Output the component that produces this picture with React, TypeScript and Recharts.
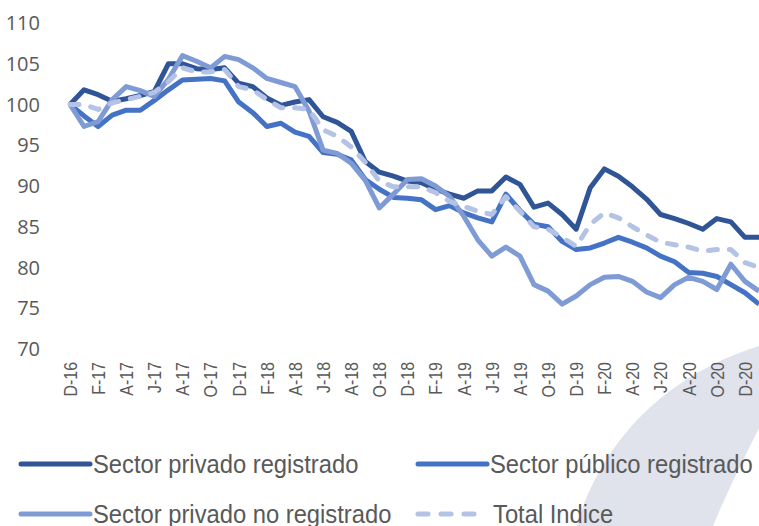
import React from 'react';
import { LineChart, Line, XAxis, YAxis } from 'recharts';

const months = [
  'D-16', 'E-17', 'F-17', 'M-17', 'A-17', 'M-17', 'J-17', 'J-17', 'A-17', 'S-17', 'O-17', 'N-17',
  'D-17', 'E-18', 'F-18', 'M-18', 'A-18', 'M-18', 'J-18', 'J-18', 'A-18', 'S-18', 'O-18', 'N-18',
  'D-18', 'E-19', 'F-19', 'M-19', 'A-19', 'M-19', 'J-19', 'J-19', 'A-19', 'S-19', 'O-19', 'N-19',
  'D-19', 'E-20', 'F-20', 'M-20', 'A-20', 'M-20', 'J-20', 'J-20', 'A-20', 'S-20', 'O-20', 'N-20',
  'D-20', 'E-21',
];

const privadoRegistrado = [
  100.0, 101.8, 101.2, 100.4, 100.7, 101.1, 101.6, 105.0, 105.0, 104.4, 104.3, 104.5,
  102.6, 102.2, 100.8, 99.9, 100.3, 100.6, 98.5, 97.8, 96.7, 93.0, 91.7, 91.2,
  90.6, 90.4, 89.6, 89.0, 88.5, 89.4, 89.4, 91.1, 90.2, 87.4, 87.9, 86.5,
  84.7, 89.8, 92.1, 91.2, 89.9, 88.4, 86.5, 86.0, 85.4, 84.7, 86.0, 85.6,
  83.7, 83.7,
];

const publicoRegistrado = [
  100.0, 98.6, 97.3, 98.7, 99.3, 99.3, 100.5, 101.8, 103.0, 103.1, 103.2, 102.9,
  100.3, 99.0, 97.3, 97.7, 96.6, 96.1, 94.1, 93.9, 93.2, 90.8, 89.6, 88.6,
  88.5, 88.3, 87.1, 87.6, 86.7, 86.1, 85.6, 89.0, 87.0, 85.3, 85.0, 83.2,
  82.2, 82.4, 83.0, 83.7, 83.1, 82.4, 81.4, 80.7, 79.4, 79.3, 78.9, 77.9,
  76.9, 75.5,
];

const privadoNoRegistrado = [
  100.0, 97.3, 97.9, 100.6, 102.2, 101.7, 101.0, 103.1, 106.0, 105.3, 104.5, 105.9,
  105.5, 104.5, 103.2, 102.7, 102.2, 99.2, 94.4, 94.0, 92.8, 90.7, 87.3, 89.0,
  90.8, 90.9, 90.0, 88.7, 86.3, 83.4, 81.4, 82.5, 81.4, 77.9, 77.1, 75.5,
  76.5, 77.9, 78.8, 78.9, 78.3, 77.0, 76.3, 77.9, 78.8, 78.3, 77.3, 80.4,
  78.3, 77.1,
];

const totalIndice = [
  100.0, 100.0, 99.4, 100.2, 100.6, 101.0, 101.5, 102.8, 104.5, 104.0, 104.0, 104.3,
  102.2, 101.8, 100.6, 99.6, 99.6, 99.4, 96.9, 96.1, 94.8, 92.9, 90.6, 89.9,
  89.9, 89.9, 89.2, 88.1, 87.5, 86.9, 86.5, 88.7, 86.9, 85.0, 84.7, 83.7,
  82.6, 85.3, 86.7, 86.1, 85.0, 84.0, 83.1, 82.8, 82.5, 82.0, 82.2, 82.2,
  80.6, 80.0,
];

const yTicks = [70, 75, 80, 85, 90, 95, 100, 105, 110];

const series = [
  { key: 'privado', name: 'Sector privado registrado', color: '#2f5597', dash: undefined },
  { key: 'publico', name: 'Sector público registrado', color: '#4472c4', dash: undefined },
  { key: 'noRegistrado', name: 'Sector privado no registrado', color: '#7f9bd6', dash: undefined },
  { key: 'total', name: 'Total Indice', color: '#b4c2e6', dash: '9 12' },
];

const data = months.map((m, i) => ({
  m,
  privado: privadoRegistrado[i],
  publico: publicoRegistrado[i],
  noRegistrado: privadoNoRegistrado[i],
  total: totalIndice[i],
}));

// labels are tall and condensed in the original, so squeeze along the text direction
const MonthTick = ({ x, y, payload }: any) => (
  <text
    x={0}
    y={0}
    dy="0.36em"
    transform={`translate(${x},${y + 13}) rotate(-90) scale(0.84,1)`}
    textAnchor="end"
    fill="#595959"
    fontSize={19}
    fontFamily="'Liberation Sans', Arial, sans-serif"
  >
    {payload.value}
  </text>
);

const legendPos = [
  { left: 18, top: 464 },
  { left: 415, top: 464 },
  { left: 18, top: 514 },
  { left: 415, top: 514 },
];

const App = () => (
  <div style={{ position: 'absolute', left: 0, top: 0, width: 759, height: 526, overflow: 'hidden', background: '#fff' }}>
    <svg width={759} height={526} style={{ position: 'absolute', left: 0, top: 0 }}>
      <path d="M577,526 C597,455 652,380 759,346 L759,428 C742,462 726,494 713,526 Z" fill="#e0e2ec" />
    </svg>
    <div style={{ position: 'absolute', left: 0, top: 0 }}>
      <LineChart width={759} height={526} data={data} margin={{ top: 23, right: 0, bottom: 0, left: 0 }}>
        <XAxis
          dataKey="m"
          interval={1}
          axisLine={false}
          tickLine={false}
          tickSize={0}
          tickMargin={0}
          height={177}
          padding={{ left: 0, right: 0 }}
          tick={<MonthTick />}
        />
        <YAxis
          domain={[70, 110]}
          ticks={yTicks}
          axisLine={false}
          tickLine={false}
          tickSize={0}
          tickMargin={30}
          width={70}
          tick={{ fill: '#595959', fontSize: 20, fontFamily: "'Open Sans', sans-serif" }}
        />
        {series.map((s) => (
          <Line
            key={s.key}
            type="linear"
            dataKey={s.key}
            name={s.name}
            stroke={s.color}
            strokeWidth={5}
            strokeDasharray={s.dash}
            strokeLinejoin="round"
            strokeLinecap={s.dash ? 'round' : 'butt'}
            dot={false}
            isAnimationActive={false}
          />
        ))}
      </LineChart>
    </div>
    {series.map((s, i) => (
      <div
        key={s.key}
        style={{
          position: 'absolute',
          left: legendPos[i].left,
          top: legendPos[i].top - 16,
          height: 32,
          display: 'flex',
          alignItems: 'center',
          whiteSpace: 'nowrap',
        }}
      >
        <svg width={75} height={10}>
          <line
            x1={3}
            y1={5}
            x2={72}
            y2={5}
            stroke={s.color}
            strokeWidth={5}
            strokeLinecap="round"
            strokeDasharray={s.dash ? '10 13' : undefined}
          />
        </svg>
        <span
          style={{
            display: 'inline-block',
            fontFamily: "'Liberation Sans', Arial, sans-serif",
            fontSize: 25,
            color: '#595959',
            transform: 'scaleX(0.95)',
            transformOrigin: 'left center',
            marginLeft: s.dash ? 3 : 0,
          }}
        >
          {s.name}
        </span>
      </div>
    ))}
  </div>
);

export default App;
